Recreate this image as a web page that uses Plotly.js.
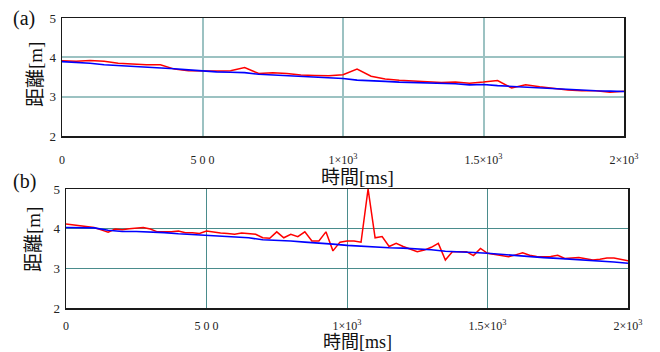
<!DOCTYPE html>
<html>
<head>
<meta charset="utf-8">
<script src="https://cdn.plot.ly/plotly-3.0.1.min.js"></script>
<style>html,body{margin:0;padding:0;background:#fff;}#chart{width:660px;height:352px;}</style>
</head>
<body>
<div id="chart"></div>
<script>
// time axes (ms)
const time50 = [0,50,100,150,200,250,300,350,400,450,500,550,600,650,700,750,800,850,900,950,1000,1050,1100,1150,1200,1250,1300,1350,1400,1450,1500,1550,1600,1650,1700,1750,1800,1850,1900,1950,2000];
const time25 = [0,25,50,75,100,125,150,175,200,225,250,275,300,325,350,375,400,425,450,475,500,525,550,575,600,625,650,675,700,725,750,775,800,825,850,875,900,925,950,975,1000,1025,1050,1075,1100,1125,1150,1175,1200,1225,1250,1275,1300,1325,1350,1375,1400,1425,1450,1475,1500,1525,1550,1575,1600,1625,1650,1675,1700,1725,1750,1775,1800,1825,1850,1875,1900,1925,1950,1975,2000];

// panel (a)
const aRed  = [3.91,3.90,3.92,3.90,3.85,3.83,3.81,3.81,3.70,3.66,3.65,3.65,3.66,3.74,3.59,3.61,3.59,3.55,3.54,3.53,3.56,3.70,3.52,3.45,3.42,3.40,3.37,3.36,3.37,3.34,3.37,3.41,3.22,3.30,3.25,3.21,3.17,3.15,3.15,3.11,3.14];
const aBlue = [3.89,3.87,3.85,3.81,3.79,3.77,3.76,3.74,3.71,3.68,3.65,3.63,3.62,3.61,3.57,3.55,3.53,3.52,3.50,3.48,3.46,3.42,3.41,3.39,3.37,3.36,3.36,3.34,3.33,3.30,3.31,3.28,3.26,3.24,3.23,3.21,3.19,3.17,3.15,3.14,3.13];

// panel (b)
const bRed  = [4.12,4.10,4.07,4.05,4.03,3.97,3.91,3.99,3.97,4.00,4.02,4.03,3.99,3.92,3.92,3.92,3.94,3.90,3.90,3.88,3.94,3.91,3.89,3.88,3.86,3.89,3.87,3.86,3.77,3.76,3.92,3.77,3.86,3.80,3.92,3.69,3.69,3.92,3.44,3.66,3.69,3.69,3.66,5.00,3.77,3.80,3.55,3.63,3.55,3.48,3.42,3.46,3.53,3.63,3.21,3.42,3.42,3.42,3.32,3.50,3.38,3.35,3.31,3.29,3.34,3.39,3.33,3.30,3.29,3.30,3.33,3.25,3.26,3.27,3.24,3.21,3.23,3.26,3.26,3.22,3.19];
const bBlue = [4.03,4.03,4.02,3.96,3.93,3.93,3.92,3.90,3.87,3.85,3.83,3.81,3.79,3.77,3.72,3.71,3.69,3.66,3.64,3.61,3.58,3.56,3.53,3.52,3.51,3.49,3.47,3.43,3.42,3.40,3.38,3.35,3.32,3.29,3.27,3.25,3.23,3.21,3.19,3.16,3.13];

// tick labels
const xTickVals = [0,500,1000,1500,2000];
const xTickText = ["0","5 0 0","1×10<sup>3</sup>","1.5×10<sup>3</sup>","2×10<sup>3</sup>"];
const yTickVals = [2,3,4,5];
const yTickText = ["2","3","4","5"];
const panelLabels = ["(a)","(b)"];
const xTitle = "時間[ms]";
const yTitle = "距離[m]";

const W = 660, H = 352;
const serif = "'Liberation Serif', 'DejaVu Serif', Tinos, serif";
const cjk = "'Liberation Serif', 'DejaVu Serif', 'Noto Sans CJK JP', serif";

function xaxis(domain, grid, gw, standoff) {
  return {domain: domain, range: [0,2000], tickmode: "array", tickvals: xTickVals, ticktext: xTickText,
    showgrid: true, gridcolor: grid, gridwidth: gw, zeroline: false, showline: true, mirror: true,
    linecolor: "#1a1a1a", linewidth: 1.5, ticks: "", ticklabelstandoff: standoff,
    tickfont: {family: serif, size: 12, color: "#222"}, fixedrange: true};
}
function yaxis(domain, grid, gw, anchor) {
  return {domain: domain, range: [2,5], tickmode: "array", tickvals: yTickVals, ticktext: yTickText,
    showgrid: true, gridcolor: grid, gridwidth: gw, zeroline: false, showline: true, mirror: true,
    linecolor: "#1a1a1a", linewidth: 1.5, ticks: "", ticklabelstandoff: 2, anchor: anchor,
    tickfont: {family: serif, size: 13, color: "#222"}, fixedrange: true};
}

const traces = [
  {x: time50, y: aRed, xaxis: "x", yaxis: "y", mode: "lines", line: {color: "#ff0000", width: 1.5}},
  {x: time50, y: aBlue, xaxis: "x", yaxis: "y", mode: "lines", line: {color: "#0000ff", width: 1.6}},
  {x: time25, y: bRed, xaxis: "x2", yaxis: "y2", mode: "lines", line: {color: "#ff0000", width: 1.5}},
  {x: time50, y: bBlue, xaxis: "x2", yaxis: "y2", mode: "lines", line: {color: "#0000ff", width: 1.6}}
];

function px(x){return x/W;}
function py(y){return 1 - y/H;}

const ann = [];
function addText(text, x, y, size, font, rot) {
  ann.push({text: text, xref: "paper", yref: "paper", x: px(x), y: py(y), xanchor: "center", yanchor: "middle",
    showarrow: false, textangle: rot || 0, font: {family: font, size: size, color: "#111"}});
}
addText(panelLabels[0], 24, 19, 20, serif);
addText(panelLabels[1], 24, 181, 20, serif);
addText(yTitle, 35, 75, 19, cjk, -90);
addText(yTitle, 34, 240, 19, cjk, -90);
addText(xTitle, 357, 177, 19, cjk);
addText(xTitle, 357, 342, 18, cjk);

const layout = {
  width: W, height: H, margin: {l: 0, r: 0, t: 0, b: 0}, showlegend: false,
  paper_bgcolor: "#fff", plot_bgcolor: "#fff",
  xaxis: xaxis([px(62), px(624)], "#9cc2c2", 2, 12),
  yaxis: yaxis([py(136), py(18)], "#9cc2c2", 2, "x"),
  xaxis2: Object.assign(xaxis([px(66), px(628)], "#4a8c8c", 1, 6), {anchor: "y2"}),
  yaxis2: yaxis([py(308), py(189)], "#4a8c8c", 1, "x2"),
  annotations: ann
};
layout.xaxis.anchor = "y";

Plotly.newPlot("chart", traces, layout, {staticPlot: true, displayModeBar: false});
</script>
</body>
</html>
